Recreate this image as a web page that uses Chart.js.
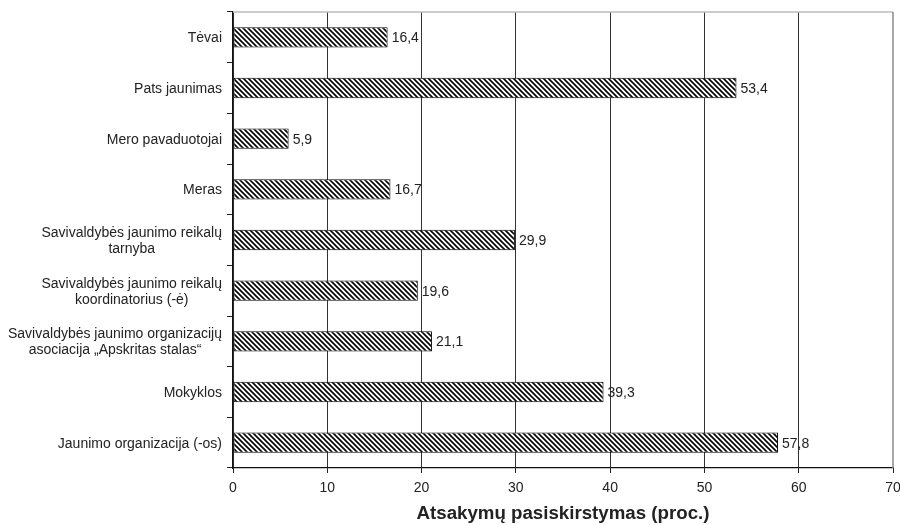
<!DOCTYPE html>
<html>
<head>
<meta charset="utf-8">
<script src="https://cdn.jsdelivr.net/npm/chart.js@4.4.1/dist/chart.umd.min.js"></script>
<style>
  html, body { margin: 0; padding: 0; background: #fff; }
  #wrap { width: 900px; height: 525px; }
</style>
</head>
<body>
<div id="wrap"><canvas id="answersChart"></canvas></div>
<script>
// categories, top to bottom as in the picture
const categories = [
    ['Tėvai'],
    ['Pats jaunimas'],
    ['Mero pavaduotojai'],
    ['Meras'],
    ['Savivaldybės jaunimo reikalų', 'tarnyba'],
    ['Savivaldybės jaunimo reikalų', 'koordinatorius (-ė)'],
    ['Savivaldybės jaunimo organizacijų', 'asociacija „Apskritas stalas“'],
    ['Mokyklos'],
    ['Jaunimo organizacija (-os)']
];
const shares = [16.4, 53.4, 5.9, 16.7, 29.9, 19.6, 21.1, 39.3, 57.8];
const xTicks = [0, 10, 20, 30, 40, 50, 60, 70];
const xTitle = 'Atsakymų pasiskirstymas (proc.)';

const FONT = 'Arial, "Liberation Sans", sans-serif';

function makeHatch() {
    const size = 5;
    const c = document.createElement('canvas');
    c.width = size;
    c.height = size;
    const g = c.getContext('2d');
    g.fillStyle = '#fff';
    g.fillRect(0, 0, size, size);
    g.strokeStyle = '#000';
    g.lineWidth = 1.6;
    g.beginPath();
    g.moveTo(-1, -1); g.lineTo(size + 1, size + 1);
    g.moveTo(size - 1, -1); g.lineTo(size + 1, 1);
    g.moveTo(-1, size - 1); g.lineTo(1, size + 1);
    g.stroke();
    return g.createPattern(c, 'repeat');
}

function formatValue(v) {
    return v.toFixed(1).replace('.', ',');
}

// value text at the end of each bar
const valueLabels = {
    id: 'valueLabels',
    afterDatasetsDraw(chart) {
        const ctx = chart.ctx;
        const meta = chart.getDatasetMeta(0);
        ctx.save();
        ctx.font = '14px ' + FONT;
        ctx.fillStyle = '#222';
        ctx.textAlign = 'left';
        ctx.textBaseline = 'middle';
        meta.data.forEach(function (bar, i) {
            ctx.fillText(formatValue(shares[i]), bar.x + 4, bar.y + 1);
        });
        ctx.restore();
    }
};

// category names: block right aligned, lines centred on each other
const categoryLabels = {
    id: 'categoryLabels',
    afterDraw(chart) {
        const ctx = chart.ctx;
        const yScale = chart.scales.y;
        const right = yScale.right - 11;
        const lineH = 16;
        ctx.save();
        ctx.font = '14px ' + FONT;
        ctx.fillStyle = '#222';
        ctx.textAlign = 'center';
        ctx.textBaseline = 'middle';
        categories.forEach(function (lines, i) {
            let maxW = 0;
            lines.forEach(function (l) { maxW = Math.max(maxW, ctx.measureText(l).width); });
            const cx = right - maxW / 2;
            const cy = yScale.getPixelForValue(i);
            lines.forEach(function (l, j) {
                ctx.fillText(l, cx, cy + (j - (lines.length - 1) / 2) * lineH + 1);
            });
        });
        ctx.restore();
    }
};

// thin grey frame on top and right of the plot
const plotFrame = {
    id: 'plotFrame',
    beforeDatasetsDraw(chart) {
        const a = chart.chartArea;
        const ctx = chart.ctx;
        ctx.save();
        ctx.lineWidth = 1.5;
        ctx.strokeStyle = '#bbbbbb';
        ctx.beginPath();
        ctx.moveTo(a.left, a.top);
        ctx.lineTo(a.right, a.top);
        ctx.stroke();
        ctx.strokeStyle = '#8a8a8a';
        ctx.beginPath();
        ctx.moveTo(a.right, a.top);
        ctx.lineTo(a.right, a.bottom);
        ctx.stroke();
        ctx.restore();
    }
};

new Chart(document.getElementById('answersChart'), {
    type: 'bar',
    data: {
        labels: categories.map(function (c) { return c.join(' '); }),
        datasets: [{
            data: shares,
            backgroundColor: makeHatch(),
            borderColor: '#000',
            borderWidth: 1,
            borderSkipped: false,
            barPercentage: 0.4,
            categoryPercentage: 1.0
        }]
    },
    options: {
        indexAxis: 'y',
        responsive: true,
        maintainAspectRatio: false,
        animation: false,
        layout: { padding: { top: 12, right: 7, left: 0, bottom: 0 } },
        plugins: {
            legend: { display: false },
            tooltip: { enabled: false }
        },
        scales: {
            x: {
                min: 0,
                max: 70,
                afterBuildTicks(scale) {
                    scale.ticks = xTicks.map(function (v) { return { value: v }; });
                },
                afterFit(scale) {
                    scale.height = 57;
                    scale.paddingLeft = 0;
                    scale.paddingRight = 0;
                },
                grid: {
                    color: function (c) { return c.tick && c.tick.value === 70 ? 'rgba(0,0,0,0)' : '#333'; },
                    lineWidth: 1,
                    tickLength: 5,
                    tickColor: '#222',
                    drawTicks: true
                },
                border: { color: '#111', width: 1.2 },
                ticks: {
                    color: '#222',
                    font: { size: 14, family: FONT },
                    padding: 7,
                    maxRotation: 0
                },
                title: {
                    display: true,
                    text: xTitle,
                    color: '#222',
                    font: { size: 18.7, weight: 'bold', family: FONT },
                    padding: { top: 0, bottom: 0 }
                }
            },
            y: {
                offset: true,
                afterFit(scale) {
                    scale.width = 233;
                    scale.paddingTop = 0;
                    scale.paddingBottom = 0;
                },
                grid: {
                    offset: true,
                    drawOnChartArea: false,
                    tickLength: 6,
                    tickColor: '#222'
                },
                border: { color: '#111', width: 1.2 },
                ticks: {
                    color: 'rgba(0,0,0,0)',
                    font: { size: 14, family: FONT }
                }
            }
        }
    },
    plugins: [plotFrame, valueLabels, categoryLabels]
});
</script>
</body>
</html>
